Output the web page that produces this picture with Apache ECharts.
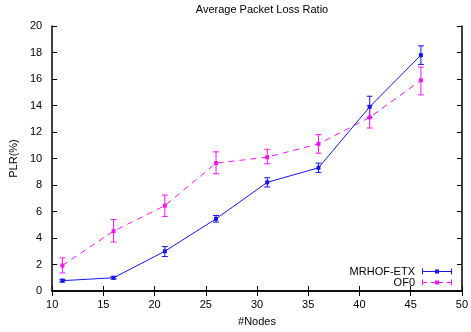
<!DOCTYPE html>
<html><head><meta charset="utf-8">
<script src="https://cdn.jsdelivr.net/npm/echarts@6/dist/echarts.min.js"></script>
<style>html,body{margin:0;padding:0;background:#fff}#c{width:471px;height:332px}</style>
</head><body><div id="c"></div>
<script>
const nodes = [11, 16, 21, 26, 31, 36, 41, 46];
const mrhofMean = [0.78, 1.0, 3.0, 5.45, 8.2, 9.3, 13.9, 17.8];
const mrhofLow  = [0.68, 0.9, 2.6, 5.2, 7.85, 8.95, 13.1, 17.1];
const mrhofHigh = [0.88, 1.1, 3.35, 5.7, 8.55, 9.65, 14.7, 18.5];
const of0Mean = [1.92, 4.52, 6.44, 9.65, 10.1, 11.1, 13.1, 15.9];
const of0Low  = [1.36, 3.7, 5.63, 8.85, 9.6, 10.4, 12.3, 14.8];
const of0High = [2.5, 5.39, 7.24, 10.5, 10.7, 11.8, 14.0, 16.9];
const blue = '#1515ee', magenta = '#f016f0';
const font = 'Liberation Sans, Arial, sans-serif';

function pairs(xs, ys){ return xs.map((x,i)=>[x, ys[i]]); }
function errData(xs, lo, hi){ return xs.map((x,i)=>[x, lo[i], hi[i]]); }
function errSeries(name, color, data){
  return {
    type:'custom', name: name, data: data, z: 3,
    encode:{x:0, y:[1,2]},
    renderItem: function(params, api){
      const x = api.value(0);
      const a = api.coord([x, api.value(1)]);
      const b = api.coord([x, api.value(2)]);
      const w = 3;
      return {type:'group', children:[
        {type:'line', shape:{x1:a[0],y1:a[1],x2:b[0],y2:b[1]}, style:{stroke:color,lineWidth:1}},
        {type:'line', shape:{x1:a[0]-w,y1:a[1],x2:a[0]+w,y2:a[1]}, style:{stroke:color,lineWidth:1}},
        {type:'line', shape:{x1:b[0]-w,y1:b[1],x2:b[0]+w,y2:b[1]}, style:{stroke:color,lineWidth:1}}
      ]};
    }
  };
}
const axisCommon = {
  axisLine:{show:true, lineStyle:{color:'#000', width:1.5}},
  axisTick:{show:true, inside:true, length:5, lineStyle:{color:'#000', width:1}},
  splitLine:{show:false}
};
const iconSolid = 'path://M0,3.5h30v1h-30z M0,1h1v6h-1z M29,1h1v6h-1z M13,2h4v4h-4z';
const iconDash = 'path://M0,3.5h5v1h-5z M9,3.5h4v1h-4z M13,2h4v4h-4z M17,3.5h4v1h-4z M25,3.5h5v1h-5z M0,1h1v6h-1z M29,1h1v6h-1z';
const chart = echarts.init(document.getElementById('c'));
chart.setOption({
  animation:false,
  backgroundColor:'#fff',
  title:{text:'Average Packet Loss Ratio', left:257, top:-1, textAlign:'center',
    textStyle:{fontFamily:font, fontSize:11, fontWeight:'normal', color:'#000'}},
  grid:{left:50, right:7, top:26, bottom:36},
  xAxis:[
    Object.assign({}, axisCommon, {type:'value', min:10, max:50, interval:5, position:'bottom',
      name:'#Nodes', nameLocation:'middle', nameGap:25,
      nameTextStyle:{fontFamily:font, fontSize:11, color:'#000'},
      axisLabel:{fontFamily:font, fontSize:11, color:'#000', margin:8}}),
    Object.assign({}, axisCommon, {type:'value', min:10, max:50, interval:5, position:'top',
      axisLabel:{show:false}})
  ],
  yAxis:[
    Object.assign({}, axisCommon, {type:'value', min:0, max:20, interval:2, position:'left',
      name:'PLR(%)', nameLocation:'middle', nameGap:33, nameRotate:90,
      nameTextStyle:{fontFamily:font, fontSize:11, color:'#000'},
      axisLabel:{fontFamily:font, fontSize:11, color:'#000', margin:10}}),
    Object.assign({}, axisCommon, {type:'value', min:0, max:20, interval:2, position:'right',
      axisLabel:{show:false}})
  ],
  legend:{
    right:14, bottom:39, orient:'vertical', align:'right', itemGap:0,
    itemWidth:30, itemHeight:8,
    textStyle:{fontFamily:font, fontSize:11, color:'#000', padding:[0,2,0,0]},
    data:[{name:'MRHOF-ETX', icon:iconSolid},{name:'OF0', icon:iconDash}]
  },
  series:[
    {type:'line', name:'MRHOF-ETX', data:pairs(nodes, mrhofMean), z:4,
      symbol:'rect', symbolSize:4, lineStyle:{color:blue, width:1},
      itemStyle:{color:blue}},
    errSeries('MRHOF-ETX', blue, errData(nodes, mrhofLow, mrhofHigh)),
    {type:'line', name:'OF0', data:pairs(nodes, of0Mean), z:4,
      symbol:'rect', symbolSize:4, lineStyle:{color:magenta, width:1, type:[6,5]},
      itemStyle:{color:magenta}},
    errSeries('OF0', magenta, errData(nodes, of0Low, of0High))
  ]
});
</script></body></html>
